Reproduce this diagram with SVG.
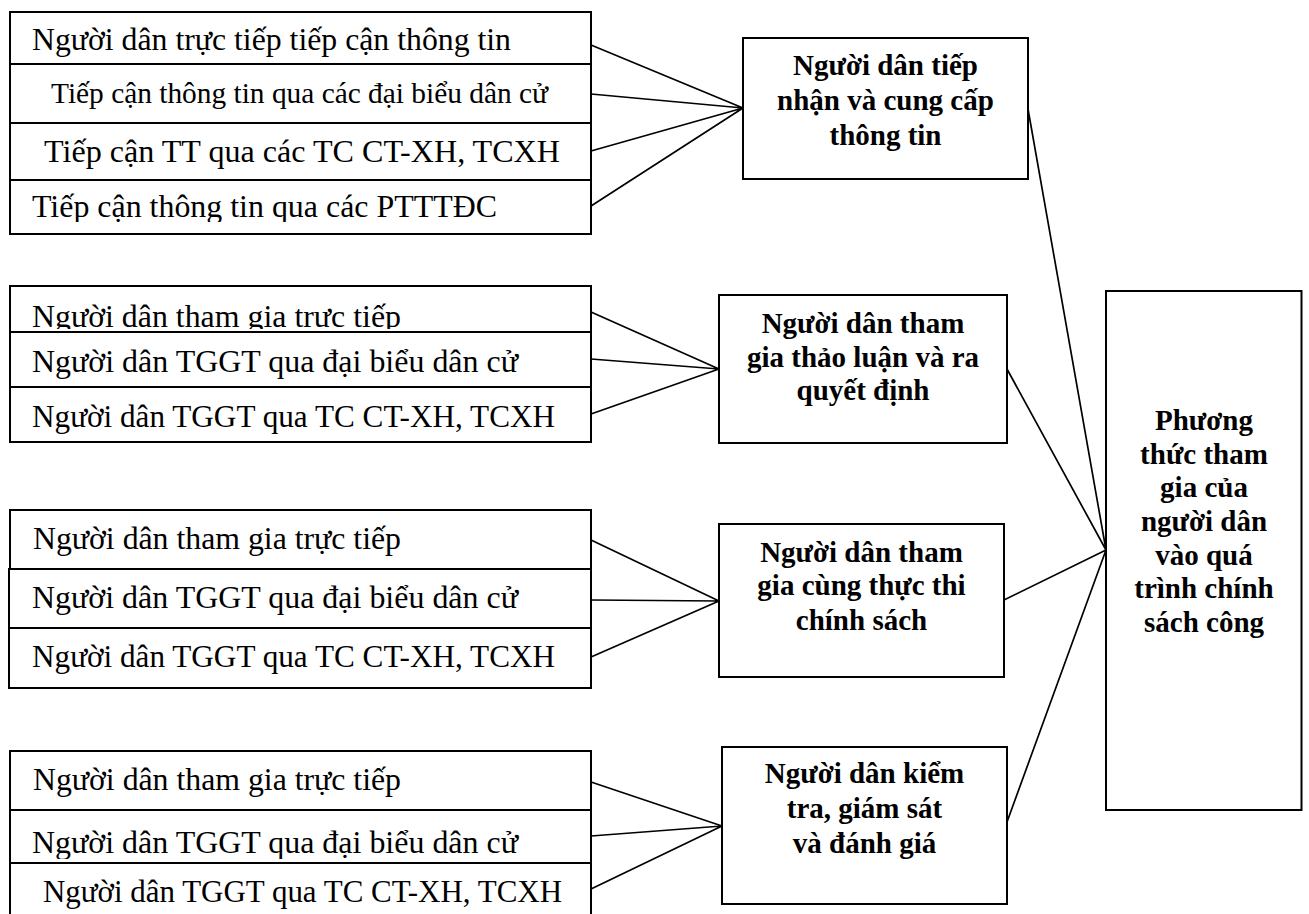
<svg xmlns="http://www.w3.org/2000/svg" width="1309" height="914" viewBox="0 0 1309 914">
<style>
.box{fill:#fff;stroke:#000;stroke-width:2}
.t{font-family:"Liberation Serif","Times New Roman",serif;font-size:31px;fill:#000}
.s{font-size:30px}
.b{font-family:"Liberation Serif","Times New Roman",serif;font-size:29px;font-weight:bold;fill:#000;text-anchor:middle}
.c{stroke:#000;stroke-width:1.7;fill:none}
</style>
<defs>
<clipPath id="c14"><rect x="0" y="170" width="600" height="52"/></clipPath>
<clipPath id="c21"><rect x="0" y="280" width="600" height="49"/></clipPath>
<clipPath id="c42"><rect x="0" y="805" width="600" height="54"/></clipPath>
</defs>
<rect width="1309" height="914" fill="#fff"/>

<g id="connectors">
<path class="c" d="M591,45 L743,108 M591,94 L743,108 M591,151 L743,108 M591,206 L743,108"/>
<path class="c" d="M591,312 L719,369 M591,359 L719,369 M591,414 L719,369"/>
<path class="c" d="M591,540 L719,601 M591,600 L719,601 M591,657 L719,601"/>
<path class="c" d="M591,782 L722,826 M591,836 L722,826 M591,889 L722,826"/>
<path class="c" d="M1028,109 L1106,550 M1007,369 L1106,550 M1004,600 L1106,550 M1007,822 L1106,550"/>
</g>

<g id="group1">
<rect class="box" x="10" y="12" width="581" height="52"/>
<rect class="box" x="10" y="64" width="581" height="59"/>
<rect class="box" x="10" y="123" width="581" height="57"/>
<rect class="box" x="10" y="180" width="581" height="54"/>
<text class="t" x="32" y="50" textLength="479" lengthAdjust="spacingAndGlyphs">Người dân trực tiếp tiếp cận thông tin</text>
<text class="t s" x="51" y="103" textLength="497" lengthAdjust="spacingAndGlyphs">Tiếp cận thông tin qua các đại biểu dân cử</text>
<text class="t" x="44" y="162" textLength="516" lengthAdjust="spacingAndGlyphs">Tiếp cận TT qua các TC CT-XH, TCXH</text>
<text class="t" x="32" y="217" textLength="465" lengthAdjust="spacingAndGlyphs" clip-path="url(#c14)">Tiếp cận thông tin qua các PTTTĐC</text>
</g>

<g id="group2">
<rect class="box" x="10" y="286" width="581" height="46"/>
<rect class="box" x="10" y="332" width="581" height="55"/>
<rect class="box" x="10" y="387" width="581" height="55"/>
<text class="t" x="32" y="327" textLength="369" lengthAdjust="spacingAndGlyphs" clip-path="url(#c21)">Người dân tham gia trực tiếp</text>
<text class="t" x="32" y="372" textLength="486" lengthAdjust="spacingAndGlyphs">Người dân TGGT qua đại biểu dân cử</text>
<text class="t" x="32" y="427" textLength="523" lengthAdjust="spacingAndGlyphs">Người dân TGGT qua TC CT-XH, TCXH</text>
</g>

<g id="group3">
<rect class="box" x="10" y="510" width="581" height="59"/>
<rect class="box" x="9" y="569" width="582" height="59"/>
<rect class="box" x="9" y="628" width="582" height="60"/>
<text class="t" x="33" y="549" textLength="368" lengthAdjust="spacingAndGlyphs">Người dân tham gia trực tiếp</text>
<text class="t" x="32" y="608" textLength="486" lengthAdjust="spacingAndGlyphs">Người dân TGGT qua đại biểu dân cử</text>
<text class="t" x="32" y="667" textLength="523" lengthAdjust="spacingAndGlyphs">Người dân TGGT qua TC CT-XH, TCXH</text>
</g>

<g id="group4">
<rect class="box" x="10" y="751" width="581" height="59"/>
<rect class="box" x="10" y="810" width="581" height="53"/>
<rect class="box" x="10" y="863" width="581" height="70"/>
<text class="t" x="33" y="790" textLength="368" lengthAdjust="spacingAndGlyphs">Người dân tham gia trực tiếp</text>
<text class="t" x="32" y="853" textLength="486" lengthAdjust="spacingAndGlyphs" clip-path="url(#c42)">Người dân TGGT qua đại biểu dân cử</text>
<text class="t" x="43" y="902" textLength="519" lengthAdjust="spacingAndGlyphs">Người dân TGGT qua TC CT-XH, TCXH</text>
</g>

<g id="box1">
<rect class="box" x="743" y="38" width="285" height="141"/>
<text class="b" x="885.5" y="75">Người dân tiếp</text>
<text class="b" x="885.5" y="110">nhận và cung cấp</text>
<text class="b" x="885.5" y="145">thông tin</text>
</g>

<g id="box2">
<rect class="box" x="719" y="295" width="288" height="148"/>
<text class="b" x="863" y="333">Người dân tham</text>
<text class="b" x="863" y="367">gia thảo luận và ra</text>
<text class="b" x="863" y="400">quyết định</text>
</g>

<g id="box3">
<rect class="box" x="719" y="524" width="285" height="153"/>
<text class="b" x="861.5" y="562">Người dân tham</text>
<text class="b" x="861.5" y="595">gia cùng thực thi</text>
<text class="b" x="861.5" y="630">chính sách</text>
</g>

<g id="box4">
<rect class="box" x="722" y="747" width="285" height="157"/>
<text class="b" x="864.5" y="783">Người dân kiểm</text>
<text class="b" x="864.5" y="818">tra, giám sát</text>
<text class="b" x="864.5" y="853">và đánh giá</text>
</g>

<g id="box5">
<rect class="box" x="1106" y="291" width="195.5" height="519"/>
<text class="b" x="1204" y="430">Phương</text>
<text class="b" x="1204" y="464">thức tham</text>
<text class="b" x="1204" y="497">gia của</text>
<text class="b" x="1204" y="531">người dân</text>
<text class="b" x="1204" y="565">vào quá</text>
<text class="b" x="1204" y="598">trình chính</text>
<text class="b" x="1204" y="632">sách công</text>
</g>
</svg>
